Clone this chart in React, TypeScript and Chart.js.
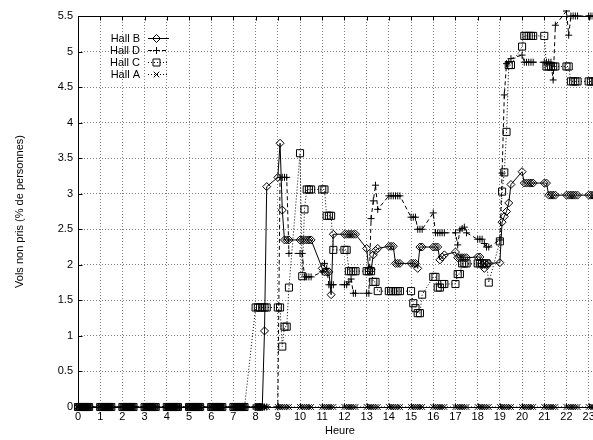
import React, { useEffect, useRef } from 'react';
import { Chart, registerables } from 'chart.js';

Chart.register(...registerables);

// Time of day written as hour + minutes/100 (e.g. 8.30 = 8h30)
const TIMES = [
  0, 0.1, 0.2, 0.3, 0.4, 0.5,
  1, 1.1, 1.2, 1.3, 1.4, 1.5,
  2, 2.1, 2.2, 2.3, 2.4, 2.5,
  3, 3.1, 3.2, 3.3, 3.4, 3.5,
  4, 4.1, 4.2, 4.3, 4.4, 4.5,
  5, 5.1, 5.2, 5.3, 5.4, 5.5,
  6, 6.1, 6.2, 6.3, 6.4, 6.5,
  7, 7.1, 7.2, 7.3, 7.4, 7.5,
  8, 8.1, 8.2, 8.3, 8.4, 8.5,
  9, 9.1, 9.2, 9.3, 9.4, 9.5,
  10, 10.1, 10.2, 10.3, 10.4, 10.5,
  11, 11.1, 11.2, 11.3, 11.4, 11.5,
  12, 12.1, 12.2, 12.3, 12.4, 12.5,
  13, 13.1, 13.2, 13.3, 13.4, 13.5,
  14, 14.1, 14.2, 14.3, 14.4, 14.5,
  15, 15.1, 15.2, 15.3, 15.4, 15.5,
  16, 16.1, 16.2, 16.3, 16.4, 16.5,
  17, 17.1, 17.2, 17.3, 17.4, 17.5,
  18, 18.1, 18.2, 18.3, 18.4, 18.5,
  19, 19.1, 19.2, 19.3, 19.4, 19.5,
  20, 20.1, 20.2, 20.3, 20.4, 20.5,
  21, 21.1, 21.2, 21.3, 21.4, 21.5,
  22, 22.1, 22.2, 22.3, 22.4, 22.5,
  23, 23.1, 23.2, 23.3, 23.4, 23.5,
];

const HALL_B = [
  0, 0, 0, 0, 0, 0,
  0, 0, 0, 0, 0, 0,
  0, 0, 0, 0, 0, 0,
  0, 0, 0, 0, 0, 0,
  0, 0, 0, 0, 0, 0,
  0, 0, 0, 0, 0, 0,
  0, 0, 0, 0, 0, 0,
  0, 0, 0, 0, 0, 0,
  0, 0, 0, 0, 1.07, 3.1,
  3.23, 3.71, 2.77, 2.35, 2.35, 2.35,
  2.35, 2.35, 2.35, 2.35, 2.35, 2.35,
  1.95, 1.9, 1.9, 1.9, 1.58, 2.43,
  2.43, 2.43, 2.43, 2.43, 2.43, 2.43,
  2.23, 1.93, 1.93, 2.14, 2.2, 2.23,
  2.26, 2.26, 2.26, 2.02, 2.02, 2.02,
  2.02, 2.02, 2.02, 1.95, 2.25, 2.25,
  2.25, 2.25, 2.25, 2.07, 2.11, 2.14,
  2.18, 2.1, 2.1, 2.1, 2.1, 2.1,
  2.11, 2.11, 2.0, 1.95, 2.0, 2.02,
  2.03, 2.6, 2.68, 2.75, 2.87, 3.13,
  3.31, 3.15, 3.15, 3.15, 3.15, 3.15,
  3.15, 3.15, 2.98, 2.98, 2.98, 2.98,
  2.98, 2.98, 2.98, 2.98, 2.98, 2.98,
  2.98, 2.98, 2.98, 2.98, 2.98, 2.98,
];

const HALL_D = [
  0, 0, 0, 0, 0, 0,
  0, 0, 0, 0, 0, 0,
  0, 0, 0, 0, 0, 0,
  0, 0, 0, 0, 0, 0,
  0, 0, 0, 0, 0, 0,
  0, 0, 0, 0, 0, 0,
  0, 0, 0, 0, 0, 0,
  0, 0, 0, 0, 0, 0,
  0, 0, 0, 0, 0, 0,
  0, 3.23, 3.23, 3.23, 3.23, 2.16,
  2.16, 2.16, 1.83, 1.83, 1.83, 1.83,
  1.9, 2.02, 1.95, 1.72, 1.72, 1.72,
  1.72, 1.72, 1.76, 1.8, 1.6, 1.6,
  1.6, 1.6, 2.65, 2.9, 3.12, 2.78,
  2.97, 2.97, 2.97, 2.97, 2.97, 2.97,
  2.67, 2.67, 2.67, 2.5, 2.5, 2.5,
  2.73, 2.45, 2.45, 2.45, 2.45, 2.45,
  2.45, 2.28, 2.49, 2.51, 2.53, 2.45,
  2.36, 2.36, 2.36, 2.3, 2.25, 2.25,
  2.35, 3.29, 4.39, 4.83, 4.85, 4.9,
  4.95, 4.85, 4.85, 4.85, 4.85, 4.85,
  4.85, 4.85, 4.85, 4.85, 4.6, 5.37,
  5.57, 5.23, 5.5, 5.5, 5.5, 5.5,
  5.5, 5.5, 5.5, 5.5, 5.5, 5.5,
];

const HALL_C = [
  0, 0, 0, 0, 0, 0,
  0, 0, 0, 0, 0, 0,
  0, 0, 0, 0, 0, 0,
  0, 0, 0, 0, 0, 0,
  0, 0, 0, 0, 0, 0,
  0, 0, 0, 0, 0, 0,
  0, 0, 0, 0, 0, 0,
  0, 0, 0, 0, 0, 0,
  1.4, 1.4, 1.4, 1.4, 1.4, 1.4,
  1.4, 1.4, 0.85, 1.13, 1.13, 1.68,
  3.57, 1.84, 2.78, 3.06, 3.06, 3.06,
  3.06, 3.06, 2.69, 2.69, 2.69, 2.21,
  2.21, 2.21, 1.91, 1.91, 1.91, 1.91,
  1.91, 1.91, 1.91, 1.76, 1.76, 1.63,
  1.63, 1.63, 1.63, 1.63, 1.63, 1.63,
  1.63, 1.46, 1.39, 1.32, 1.32, 1.58,
  1.83, 1.83, 1.68, 1.68, 1.73, 1.73,
  1.73, 1.87, 1.87, 2.02, 2.02, 2.02,
  2.02, 2.02, 2.02, 2.02, 2.02, 1.75,
  2.33, 3.03, 3.3, 3.87, 4.81, 4.81,
  5.07, 5.22, 5.22, 5.22, 5.22, 5.22,
  5.22, 4.79, 4.79, 4.79, 4.79, 4.79,
  4.79, 4.79, 4.58, 4.58, 4.58, 4.58,
  4.58, 4.58, 4.58, 4.58, 4.58, 4.58,
];

const HALL_A = [
  0, 0, 0, 0, 0, 0,
  0, 0, 0, 0, 0, 0,
  0, 0, 0, 0, 0, 0,
  0, 0, 0, 0, 0, 0,
  0, 0, 0, 0, 0, 0,
  0, 0, 0, 0, 0, 0,
  0, 0, 0, 0, 0, 0,
  0, 0, 0, 0, 0, 0,
  0, 0, 0, 0, 0, 0,
  0, 0, 0, 0, 0, 0,
  0, 0, 0, 0, 0, 0,
  0, 0, 0, 0, 0, 0,
  0, 0, 0, 0, 0, 0,
  0, 0, 0, 0, 0, 0,
  0, 0, 0, 0, 0, 0,
  0, 0, 0, 0, 0, 0,
  0, 0, 0, 0, 0, 0,
  0, 0, 0, 0, 0, 0,
  0, 0, 0, 0, 0, 0,
  0, 0, 0, 0, 0, 0,
  0, 0, 0, 0, 0, 0,
  0, 0, 0, 0, 0, 0,
  0, 0, 0, 0, 0, 0,
  0, 0, 0, 0, 0, 0,
];

const SERIES_NAMES = ['Hall B', 'Hall D', 'Hall C', 'Hall A'];
const X_MIN = 0;
const X_MAX = 23.6;
const Y_MIN = 0;
const Y_MAX = 5.5;
const X_TITLE = 'Heure';
const Y_TITLE = 'Vols non pris (% de personnes)';

const FONT = "'Liberation Sans', Arial, Helvetica, sans-serif";
const CANVAS_W = 620;
const CANVAS_H = 440;

type Marker = 'diamond' | 'plus' | 'square' | 'cross';

const STYLES: { marker: Marker; dash: number[]; pointStyle: string; radius: number }[] = [
  { marker: 'diamond', dash: [], pointStyle: 'rectRot', radius: 4 },
  { marker: 'plus', dash: [4, 3], pointStyle: 'cross', radius: 3.5 },
  { marker: 'square', dash: [1, 2], pointStyle: 'rect', radius: 5 },
  { marker: 'cross', dash: [1, 2], pointStyle: 'crossRot', radius: 4 },
];

function drawMarker(ctx: CanvasRenderingContext2D, m: Marker, x: number, y: number) {
  ctx.beginPath();
  if (m === 'diamond') {
    ctx.moveTo(x, y - 4);
    ctx.lineTo(x + 4, y);
    ctx.lineTo(x, y + 4);
    ctx.lineTo(x - 4, y);
    ctx.closePath();
  } else if (m === 'plus') {
    ctx.moveTo(x - 3.5, y);
    ctx.lineTo(x + 3.5, y);
    ctx.moveTo(x, y - 3.5);
    ctx.lineTo(x, y + 3.5);
  } else if (m === 'square') {
    ctx.rect(x - 3.5, y - 3.5, 7, 7);
  } else {
    ctx.moveTo(x - 2.8, y - 2.8);
    ctx.lineTo(x + 2.8, y + 2.8);
    ctx.moveTo(x + 2.8, y - 2.8);
    ctx.lineTo(x - 2.8, y + 2.8);
  }
  ctx.stroke();
}

const framePlugin = {
  id: 'gnuFrame',
  afterDraw(chart: any) {
    const { ctx, chartArea: a, scales } = chart;
    const xs = scales.x;
    const ys = scales.y;
    ctx.save();
    ctx.strokeStyle = '#000';
    ctx.lineWidth = 1;
    ctx.setLineDash([]);
    const L = Math.round(a.left) + 0.5;
    const R = Math.round(a.right) + 0.5;
    const T = Math.round(a.top) + 0.5;
    const B = Math.round(a.bottom) + 0.5;
    ctx.strokeRect(L, T, R - L, B - T);
    ctx.beginPath();
    xs.ticks.forEach((t: any) => {
      const px = Math.round(xs.getPixelForValue(t.value)) + 0.5;
      ctx.moveTo(px, B);
      ctx.lineTo(px, B - 4);
      ctx.moveTo(px, T);
      ctx.lineTo(px, T + 4);
    });
    ys.ticks.forEach((t: any) => {
      const py = Math.round(ys.getPixelForValue(t.value)) + 0.5;
      ctx.moveTo(L, py);
      ctx.lineTo(L + 4, py);
      ctx.moveTo(R, py);
      ctx.lineTo(R - 4, py);
    });
    ctx.stroke();

    // key (legend), gnuplot style: right-aligned label then line sample with marker
    ctx.font = `11px ${FONT}`;
    ctx.fillStyle = '#000';
    ctx.textAlign = 'right';
    ctx.textBaseline = 'middle';
    SERIES_NAMES.forEach((name, i) => {
      const y = Math.round(a.top + 22 + i * 12) + 0.5;
      const st = STYLES[i];
      ctx.fillText(name, a.left + 62, y);
      ctx.setLineDash(st.dash);
      ctx.beginPath();
      ctx.moveTo(a.left + 70, y);
      ctx.lineTo(a.left + 91, y);
      ctx.stroke();
      ctx.setLineDash([]);
      drawMarker(ctx, st.marker, a.left + 78.5, y);
    });
    ctx.restore();
  },
};

export default function App() {
  const ref = useRef<HTMLCanvasElement>(null);

  useEffect(() => {
    if (!ref.current) return;
    const seriesValues = [HALL_B, HALL_D, HALL_C, HALL_A];
    const datasets = seriesValues.map((vals, i) => ({
      label: SERIES_NAMES[i],
      data: TIMES.map((t, k) => ({ x: t, y: vals[k] })),
      borderColor: '#000',
      borderWidth: 1,
      borderDash: STYLES[i].dash,
      pointStyle: STYLES[i].pointStyle,
      pointRadius: STYLES[i].radius,
      pointBorderWidth: 1,
      pointBorderColor: '#000',
      pointBackgroundColor: 'rgba(0,0,0,0)',
      fill: false,
      tension: 0,
      clip: 6,
    }));

    const chart = new Chart(ref.current, {
      type: 'line',
      data: { datasets },
      options: {
        animation: false,
        responsive: true,
        maintainAspectRatio: false,
        events: [],
        layout: { padding: { top: 16, right: CANVAS_W - 602, left: 0, bottom: 0 } },
        plugins: {
          legend: { display: false },
          tooltip: { enabled: false },
        },
        scales: {
          x: {
            type: 'linear',
            min: X_MIN,
            max: X_MAX,
            afterFit: (s: any) => {
              s.height = 33;
            },
            ticks: {
              stepSize: 1,
              includeBounds: false,
              autoSkip: false,
              maxRotation: 0,
              padding: 3,
              color: '#000',
              font: { family: FONT, size: 11 },
              callback: (v: any) => String(v),
            },
            grid: { color: '#808080', lineWidth: 1, drawTicks: false },
            border: { display: false, dash: [1, 2] },
            title: {
              display: true,
              text: X_TITLE,
              color: '#000',
              font: { family: FONT, size: 11 },
              padding: { top: 0, bottom: 2 },
            },
          },
          y: {
            type: 'linear',
            min: Y_MIN,
            max: Y_MAX,
            afterFit: (s: any) => {
              s.width = 78;
            },
            ticks: {
              stepSize: 0.5,
              padding: 5,
              color: '#000',
              font: { family: FONT, size: 11 },
              callback: (v: any) => String(v),
            },
            grid: { color: '#808080', lineWidth: 1, drawTicks: false },
            border: { display: false, dash: [1, 2] },
            title: {
              display: true,
              text: Y_TITLE,
              color: '#000',
              font: { family: FONT, size: 11 },
              padding: { top: 13, bottom: 0 },
            },
          },
        },
      },
      plugins: [framePlugin],
    } as any);
    return () => chart.destroy();
  }, []);

  return (
    <div
      style={{
        position: 'fixed',
        left: 0,
        top: 0,
        width: 593,
        height: 440,
        overflow: 'hidden',
        background: '#fff',
      }}
    >
      <div style={{ position: 'relative', width: CANVAS_W, height: CANVAS_H }}>
        <canvas ref={ref} />
      </div>
    </div>
  );
}
